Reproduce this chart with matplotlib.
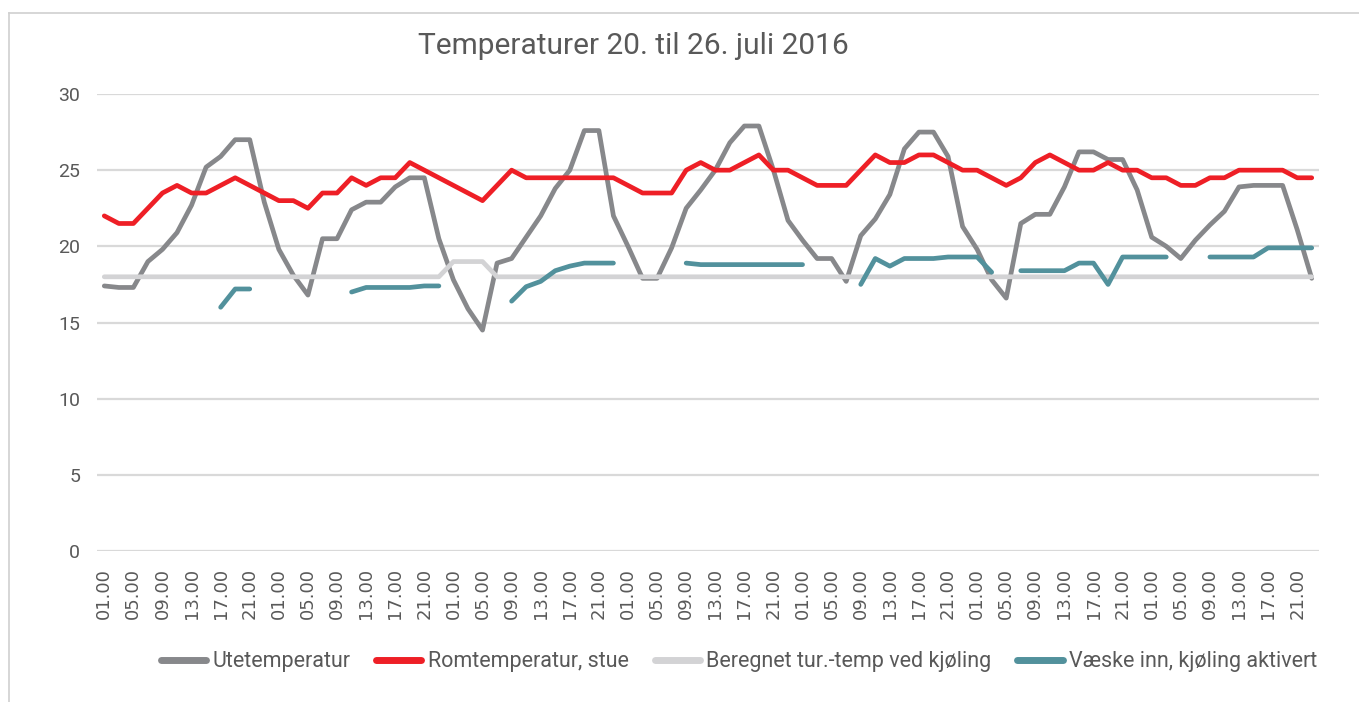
import numpy as np
import matplotlib
matplotlib.use("Agg")
import matplotlib.pyplot as plt
from matplotlib.lines import Line2D

nan = np.nan

# categories: every 2 hours, 7 days
hours = ["%02d.00" % h for h in range(1, 24, 2)]
categories = hours * 7

utetemperatur = [
    17.4, 17.3, 17.3, 19.0, 19.8, 20.9, 22.7, 25.2, 25.9, 27.0,
    27.0, 22.9, 19.8, 18.1, 16.8, 20.5, 20.5, 22.4, 22.9, 22.9,
    23.9, 24.5, 24.5, 20.5, 17.8, 15.9, 14.5, 18.9, 19.2, 20.6,
    22.0, 23.8, 25.0, 27.6, 27.6, 22.0, 20.0, 17.9, 17.9, 19.9,
    22.5, 23.7, 25.0, 26.8, 27.9, 27.9, 25.0, 21.7, 20.4, 19.2,
    19.2, 17.7, 20.7, 21.8, 23.4, 26.4, 27.5, 27.5, 25.9, 21.3,
    19.8, 17.8, 16.6, 21.5, 22.1, 22.1, 23.9, 26.2, 26.2, 25.7,
    25.7, 23.7, 20.6, 20.0, 19.2, 20.4, 21.4, 22.3, 23.9, 24.0,
    24.0, 24.0, 21.1, 17.9]

romtemperatur = [
    22.0, 21.5, 21.5, 22.5, 23.5, 24.0, 23.5, 23.5, 24.0, 24.5,
    24.0, 23.5, 23.0, 23.0, 22.5, 23.5, 23.5, 24.5, 24.0, 24.5,
    24.5, 25.5, 25.0, 24.5, 24.0, 23.5, 23.0, 24.0, 25.0, 24.5,
    24.5, 24.5, 24.5, 24.5, 24.5, 24.5, 24.0, 23.5, 23.5, 23.5,
    25.0, 25.5, 25.0, 25.0, 25.5, 26.0, 25.0, 25.0, 24.5, 24.0,
    24.0, 24.0, 25.0, 26.0, 25.5, 25.5, 26.0, 26.0, 25.5, 25.0,
    25.0, 24.5, 24.0, 24.5, 25.5, 26.0, 25.5, 25.0, 25.0, 25.5,
    25.0, 25.0, 24.5, 24.5, 24.0, 24.0, 24.5, 24.5, 25.0, 25.0,
    25.0, 25.0, 24.5, 24.5]

beregnet = [18.0] * 24 + [19.0, 19.0, 19.0] + [18.0] * 57

vaeske_inn = [
    nan, nan, nan, nan, nan, nan, nan, nan, 16.0, 17.2,
    17.2, nan, nan, nan, nan, nan, nan, 17.0, 17.3, 17.3,
    17.3, 17.3, 17.4, 17.4, nan, nan, nan, nan, 16.4, 17.35,
    17.7, 18.4, 18.7, 18.9, 18.9, 18.9, nan, nan, nan, nan,
    18.9, 18.8, 18.8, 18.8, 18.8, 18.8, 18.8, 18.8, 18.8, nan,
    nan, nan, 17.5, 19.2, 18.7, 19.2, 19.2, 19.2, 19.3, 19.3,
    19.3, 18.3, nan, 18.4, 18.4, 18.4, 18.4, 18.9, 18.9, 17.5,
    19.3, 19.3, 19.3, 19.3, nan, nan, 19.3, 19.3, 19.3, 19.3,
    19.9, 19.9, 19.9, 19.9]

series_names = ["Utetemperatur", "Romtemperatur, stue",
                "Beregnet tur.-temp ved kjøling", "Væske inn, kjøling aktivert"]
series_colors = ["#87888b", "#ee1f26", "#d3d3d5", "#52919c"]
series_data = [utetemperatur, romtemperatur, beregnet, vaeske_inn]

title = "Temperaturer 20. til 26. juli 2016"
yticks = [0, 5, 10, 15, 20, 25, 30]

textcol = "#595959"
narrow = ["Roboto", "DejaVu Sans"]

fig = plt.figure(figsize=(13.59, 7.02), dpi=100)
ax = fig.add_axes([97 / 1359, 1 - 551 / 702, 1222 / 1359, 457 / 702])

x = np.arange(len(categories))
for name, col, data in zip(series_names, series_colors, series_data):
    ax.plot(x, data, color=col, lw=3.4, solid_capstyle="round",
            solid_joinstyle="round", label=name, zorder=3)

ax.set_xlim(-0.5, len(categories) - 0.5)
ax.set_ylim(0, 30)
ax.set_yticks(yticks)
ax.set_yticklabels([str(v) for v in yticks], family=narrow, fontsize=14, color=textcol)
ax.set_xticks(x[::2])
ax.set_xticklabels(categories[::2], rotation=90, family="DejaVu Sans",
                   fontsize=13, color=textcol)
ax.tick_params(axis="both", length=0)
ax.tick_params(axis="y", pad=12)
ax.tick_params(axis="x", pad=12)
ax.grid(axis="y", color="#d9d9d9", lw=1.6, zorder=0)
for s in ax.spines.values():
    s.set_visible(False)

fig.text(0.466, 1 - 46 / 702, title, ha="center", va="center",
         family=narrow, fontsize=21.5, color=textcol)

handles = [Line2D([], [], color=c, lw=5, solid_capstyle="round") for c in series_colors]
fig.legend(handles, series_names, loc="center", bbox_to_anchor=(739 / 1359, 1 - 662 / 702),
           ncol=4, frameon=False, prop={"family": narrow, "size": 15.5},
           labelcolor=textcol, handlelength=2.1, handletextpad=0.3,
           columnspacing=1.2)

# outer chart border (top and left visible)
fig.add_artist(Line2D([9 / 1359, 9 / 1359], [0, 1 - 13 / 702], transform=fig.transFigure,
                      color="#d0d0d0", lw=1.2))
fig.add_artist(Line2D([9 / 1359, 1], [1 - 13 / 702, 1 - 13 / 702], transform=fig.transFigure,
                      color="#d0d0d0", lw=1.2))

fig.savefig("out.png", dpi=100)
